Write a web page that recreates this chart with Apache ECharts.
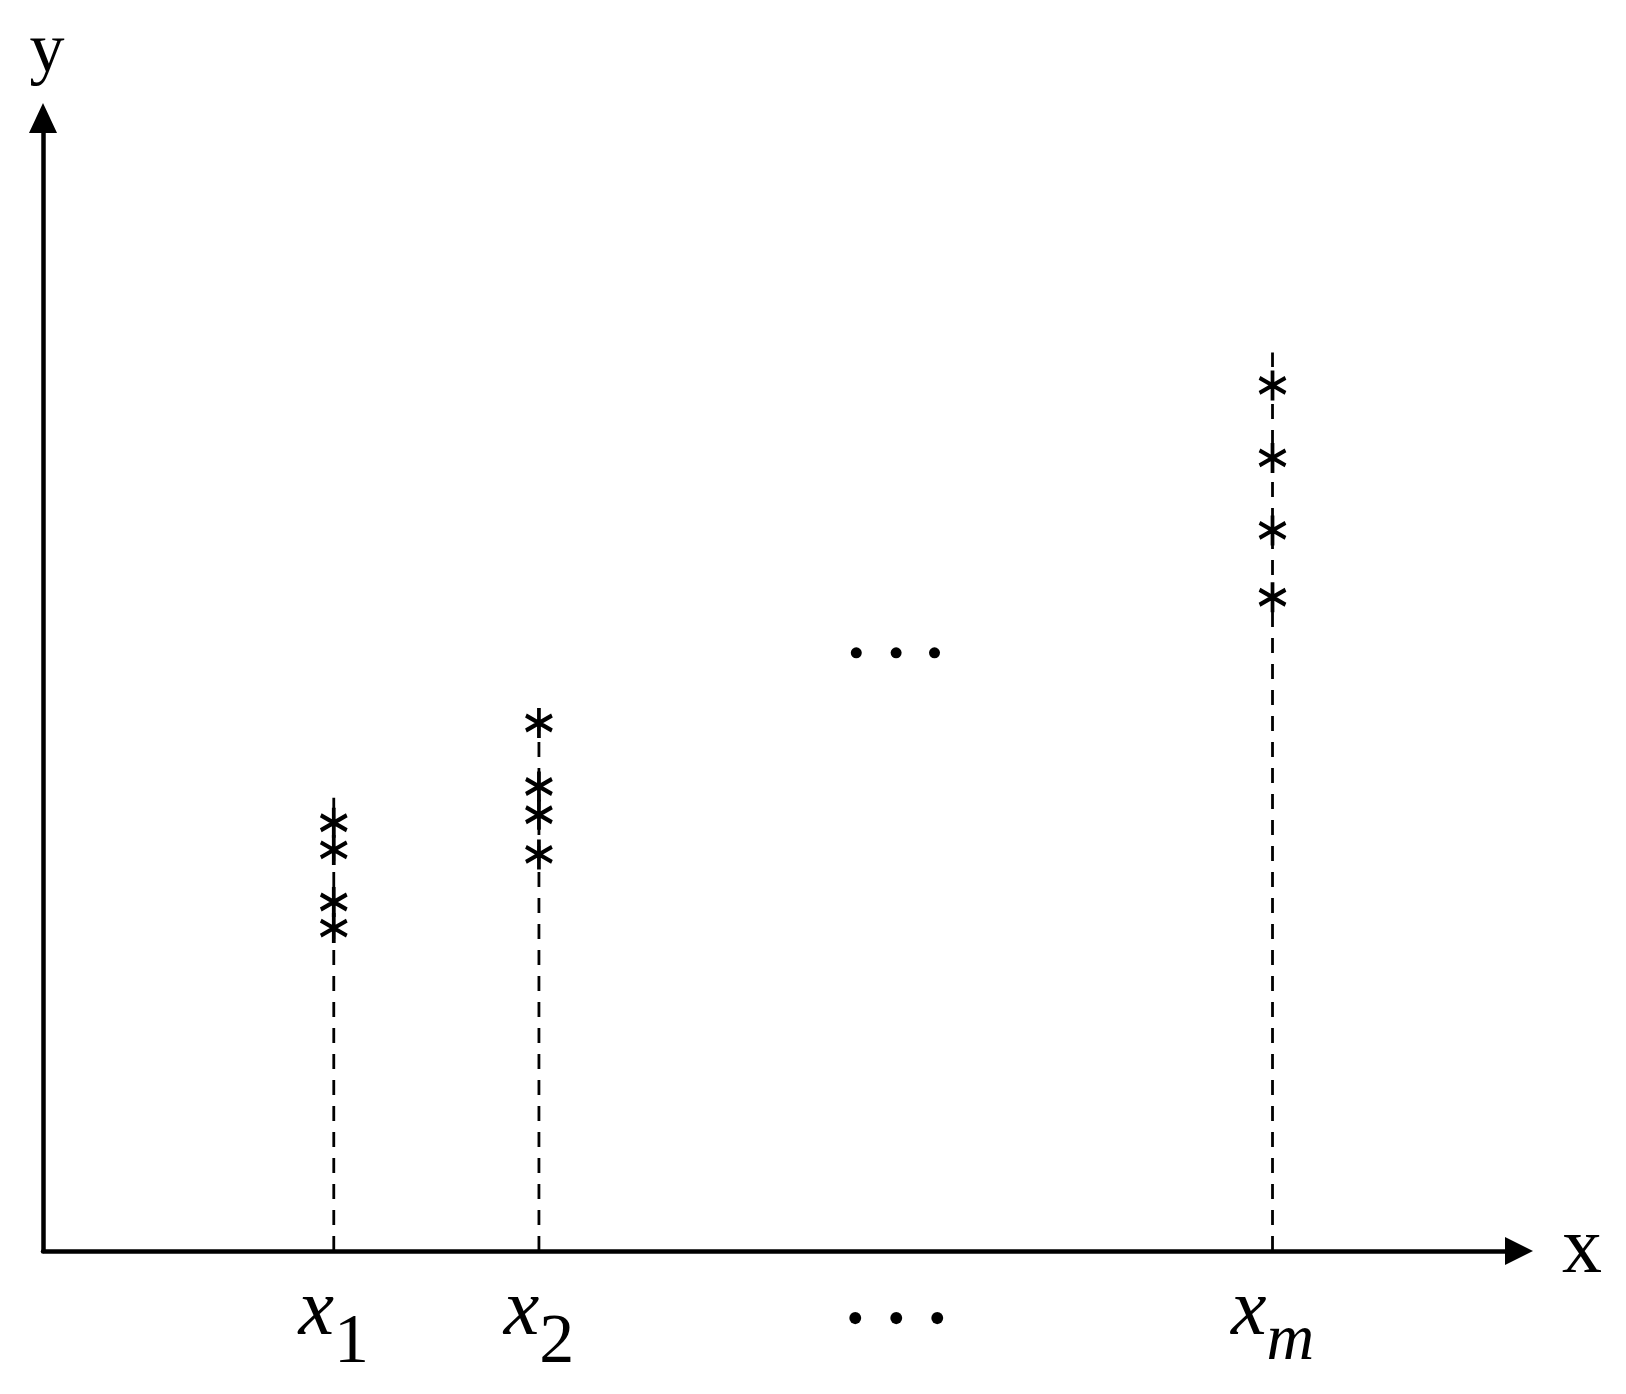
<!DOCTYPE html>
<html>
<head>
<meta charset="utf-8">
<script src="https://cdn.jsdelivr.net/npm/echarts@6/dist/echarts.min.js"></script>
<style>
html,body{margin:0;padding:0;background:#fff;}
#chart{width:1626px;height:1394px;}
</style>
</head>
<body>
<div id="chart"></div>
<script>
// Column positions (x) and tick labels
const columnX = [19.7, 33.6, 83.3];
const columnLabels = ['x1', 'x2', 'xm'];
const ellipsisX = 57.8;
// Observed y values (asterisks) per column
const valuesX1 = [37.8, 35.4, 30.8, 28.5];
const valuesX2 = [46.6, 41.0, 38.5, 35.0];
const valuesXm = [76.4, 70.0, 63.6, 57.7];
// Top of each dashed guide line
const guideTops = [40.0, 46.6, 79.3];
// Middle ellipsis dots
const midDotsX = [55.1, 57.8, 60.4];
const midDotsY = [52.8, 52.8, 52.8];

const chart = echarts.init(document.getElementById('chart'));
const serif = '"Liberation Serif", "DejaVu Serif", serif';
const starPath = 'path://M0,-1L0,1M-0.866,-0.5L0.866,0.5M-0.866,0.5L0.866,-0.5';

const allColumns = [valuesX1, valuesX2, valuesXm];
const series = [];
columnX.forEach((cx, i) => {
  series.push({
    type: 'line',
    data: [[cx, 0], [cx, guideTops[i]]],
    showSymbol: false,
    symbol: 'none',
    silent: true,
    lineStyle: { color: '#000', width: 2.8, type: [15, 11] },
    z: 2
  });
  series.push({
    type: 'scatter',
    data: allColumns[i].map(v => [cx, v]),
    symbol: starPath,
    symbolSize: [26, 30],
    symbolKeepAspect: false,
    itemStyle: { color: 'transparent', borderColor: '#000', borderWidth: 4, opacity: 1 },
    z: 3
  });
});
series.push({
  type: 'scatter',
  data: midDotsX.map((x, i) => [x, midDotsY[i]]),
  symbol: 'circle',
  symbolSize: 11,
  itemStyle: { color: '#000', opacity: 1 },
  z: 3
});

const labelMap = {};
columnX.forEach((x, i) => { labelMap[x] = columnLabels[i]; });

chart.setOption({
  animation: false,
  backgroundColor: '#fff',
  grid: { left: 43, right: 107, top: 118, bottom: 143, containLabel: false, outerBoundsMode: 'none' },
  xAxis: {
    type: 'value', min: 0, max: 100,
    splitLine: { show: false },
    axisTick: { show: false },
    axisLine: {
      show: true, onZero: false,
      lineStyle: { color: '#000', width: 4.5 },
      symbol: ['none', 'triangle'], symbolSize: [28, 28]
    },
    name: 'x', nameLocation: 'end', nameGap: 43,
    nameTextStyle: { fontFamily: serif, fontSize: 80, color: '#000', verticalAlign: 'middle' },
    axisLabel: {
      show: true,
      customValues: columnX.concat([ellipsisX]),
      margin: 22,
      formatter: function (v) {
        if (Math.abs(v - ellipsisX) < 1e-6) return '{d|\u2022}{d|\u2022}{d|\u2022}';
        const lab = labelMap[v];
        if (!lab) return '';
        const sub = lab.slice(1);
        return '{x|x}{' + (/[0-9]/.test(sub) ? 'n' : 'm') + '|' + sub + '}';
      },
      rich: {
        x: { fontFamily: serif, fontStyle: 'italic', fontSize: 80, color: '#000', padding: [0, 0, 38, 0] },
        n: { fontFamily: serif, fontStyle: 'normal', fontSize: 70, color: '#000', padding: [24, 0, 0, 0] },
        m: { fontFamily: serif, fontStyle: 'italic', fontSize: 66, color: '#000', padding: [20, 0, 0, 0] },
        d: { fontFamily: serif, fontSize: 50, width: 41, align: 'center', color: '#000', padding: [24, 0, 0, 0] }
      }
    }
  },
  yAxis: {
    type: 'value', min: 0, max: 100,
    splitLine: { show: false },
    axisTick: { show: false },
    axisLabel: { show: false },
    axisLine: {
      show: true, onZero: false,
      lineStyle: { color: '#000', width: 4.5 },
      symbol: ['none', 'triangle'], symbolSize: [28, 30]
    },
    name: 'y', nameLocation: 'end', nameGap: 30,
    nameTextStyle: { fontFamily: serif, fontSize: 70, color: '#000', align: 'center', padding: [0, 0, 0, 8] }
  },
  series: series
});
</script>
</body>
</html>
